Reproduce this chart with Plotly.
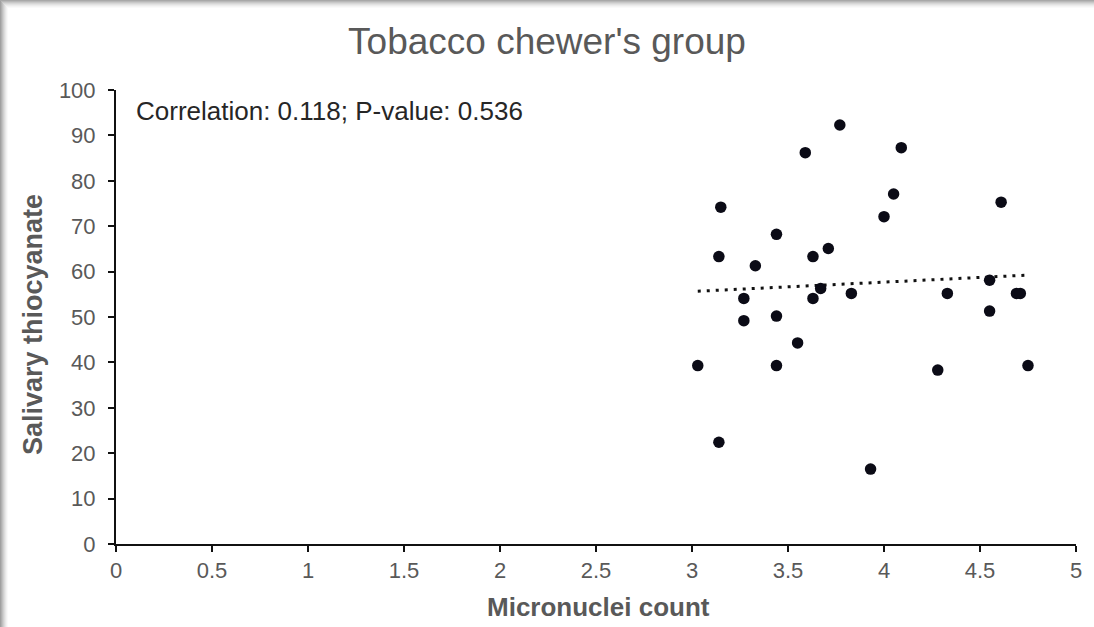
import numpy as np
import plotly.graph_objects as go

# Data
micronuclei = [3.77, 3.59, 3.15, 3.44, 3.71, 3.14, 3.63, 3.33, 3.67, 3.83,
               3.27, 3.63, 3.27, 3.44, 3.55, 3.03, 3.44, 3.14, 3.93,
               4.09, 4.05, 4.00, 4.61, 4.55, 4.33, 4.69, 4.71, 4.55, 4.28, 4.75]
thiocyanate = [92.3, 86.2, 74.2, 68.2, 65.1, 63.3, 63.3, 61.3, 56.3, 55.2,
               54.1, 54.1, 49.2, 50.2, 44.3, 39.3, 39.3, 22.4, 16.5,
               87.3, 77.1, 72.1, 75.3, 58.1, 55.2, 55.2, 55.2, 51.3, 38.3, 39.3]

title_text = "Tobacco chewer's group"
stat_text = "Correlation: 0.118; P-value: 0.536"
x_title = "Micronuclei count"
y_title = "Salivary thiocyanate"
x_ticks = [0, 0.5, 1, 1.5, 2, 2.5, 3, 3.5, 4, 4.5, 5]
y_ticks = [0, 10, 20, 30, 40, 50, 60, 70, 80, 90, 100]

# linear trend
xa = np.array(micronuclei)
ya = np.array(thiocyanate)
slope, intercept = np.polyfit(xa, ya, 1)
trend_x = [float(xa.min()), float(xa.max())]
trend_y = [slope * v + intercept for v in trend_x]

W, H = 1094, 627
L, R, T, B = 116, 18, 90, 83
pw, ph = W - L - R, H - T - B

def px_x(p):
    return (p - L) / pw

def px_y(p):
    return 1 - (p - T) / ph

fig = go.Figure()
fig.add_trace(go.Scatter(
    x=trend_x, y=trend_y, mode="lines",
    line=dict(color="#111111", width=3, dash="3px,6px"),
    showlegend=False, hoverinfo="skip"))
fig.add_trace(go.Scatter(
    x=micronuclei, y=thiocyanate, mode="markers",
    marker=dict(color="#0b0b16", size=11.5),
    showlegend=False))

grey = "#595959"
font_family = "Liberation Sans, Arial, sans-serif"

shapes = []
# shadow bands at top and left
top_cols = ["#a8a8a8", "#b8b8b8", "#c8c8c8", "#d6d6d6", "#e2e2e2", "#ececec", "#f4f4f4", "#fafafa"]
for i, c in enumerate(top_cols):
    shapes.append(dict(type="rect", xref="paper", yref="paper",
                       x0=px_x(0), x1=px_x(W), y0=px_y(i + 1), y1=px_y(i),
                       fillcolor=c, line=dict(width=0), layer="below"))
left_cols = ["#a0a0a0", "#b0b0b0", "#c0c0c0", "#cfcfcf", "#dcdcdc", "#e8e8e8", "#f2f2f2", "#fafafa"]
for i, c in enumerate(left_cols):
    shapes.append(dict(type="rect", xref="paper", yref="paper",
                       x0=px_x(i), x1=px_x(i + 1), y0=px_y(H), y1=px_y(i + 1),
                       fillcolor=c, line=dict(width=0), layer="below"))

fig.update_layout(
    width=W, height=H,
    margin=dict(l=L, r=R, t=T, b=B),
    paper_bgcolor="white", plot_bgcolor="white",
    font=dict(family=font_family, color=grey),
    title=dict(text=title_text, x=0.5, xanchor="center",
               y=1 - 41 / H, yanchor="middle", yref="container",
               font=dict(size=37, color=grey, family=font_family)),
    shapes=shapes,
    annotations=[
        dict(text=stat_text, xref="paper", yref="paper",
             x=px_x(134), y=px_y(111), xanchor="left", yanchor="middle",
             showarrow=False, font=dict(size=26, color="#262626")),
        dict(text="<b>" + x_title + "</b>", xref="paper", yref="paper",
             x=px_x(598), y=px_y(607), xanchor="center", yanchor="middle",
             showarrow=False, font=dict(size=26, color=grey)),
        dict(text="<b>" + y_title + "</b>", xref="paper", yref="paper",
             x=px_x(33), y=px_y(325), xanchor="center", yanchor="middle",
             textangle=-90, showarrow=False, font=dict(size=27, color=grey)),
    ],
    xaxis=dict(range=[0, 5], tickvals=x_ticks, ticktext=[("%g" % v) for v in x_ticks],
               showgrid=False, zeroline=False,
               showline=True, linecolor="#111111", linewidth=2,
               ticks="outside", ticklen=6, tickcolor="#111111", tickwidth=1.5,
               tickfont=dict(size=22, color=grey)),
    yaxis=dict(range=[0, 100], tickvals=y_ticks,
               showgrid=False, zeroline=False,
               showline=True, linecolor="#111111", linewidth=2,
               ticks="outside", ticklen=6, tickcolor="#111111", tickwidth=1.5,
               ticklabelstandoff=8,
               tickfont=dict(size=22, color=grey)),
)

fig.write_html("out.html")
